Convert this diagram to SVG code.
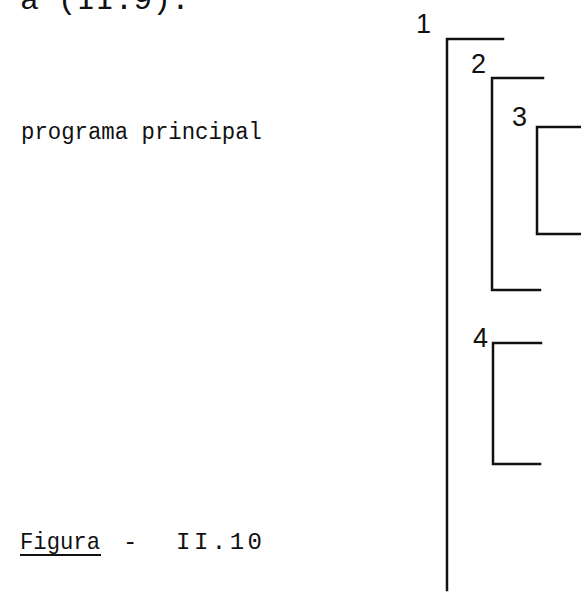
<svg xmlns="http://www.w3.org/2000/svg" width="581" height="593" viewBox="0 0 581 593">
  <style>
    .body { font-family: "Liberation Mono", "DejaVu Sans Mono", monospace; fill: #111; }
    .num { font-family: "Liberation Sans", Arial, sans-serif; font-size: 27px; fill: #111; }
    .blk { fill: none; stroke: #111; stroke-width: 2.5; stroke-linecap: square; }
  </style>
  <rect width="581" height="593" fill="#fff"/>

  <!-- running text, cut at the top edge -->
  <text class="body" x="20" y="9" font-size="30" textLength="170" lengthAdjust="spacingAndGlyphs">a (II.9).</text>

  <text id="label-main" class="body" x="21" y="139" font-size="23" textLength="241" lengthAdjust="spacingAndGlyphs">programa principal</text>

  <!-- caption -->
  <g id="caption" class="body" font-size="24">
    <text x="20" y="549" textLength="80" lengthAdjust="spacingAndGlyphs">Figura</text>
    <text x="123" y="549">-</text>
    <text x="176" y="549" textLength="86" lengthAdjust="spacing">II.10</text>
    <line x1="20" y1="555" x2="101" y2="555" stroke="#111" stroke-width="2"/>
  </g>

  <!-- nested program blocks -->
  <g id="connectors">
    <g id="block-1">
      <path class="blk" d="M503 39 H447 V590"/>
      <text class="num" x="416" y="33">1</text>
    </g>
    <g id="block-2">
      <path class="blk" d="M543 78 H492 V290 H540"/>
      <text class="num" x="471" y="73">2</text>
    </g>
    <g id="block-3">
      <path class="blk" d="M581 127 H537 V234 H581"/>
      <text class="num" x="512" y="126">3</text>
    </g>
    <g id="block-4">
      <path class="blk" d="M541 343 H493 V464 H540"/>
      <text class="num" x="473" y="347">4</text>
    </g>
  </g>
</svg>
